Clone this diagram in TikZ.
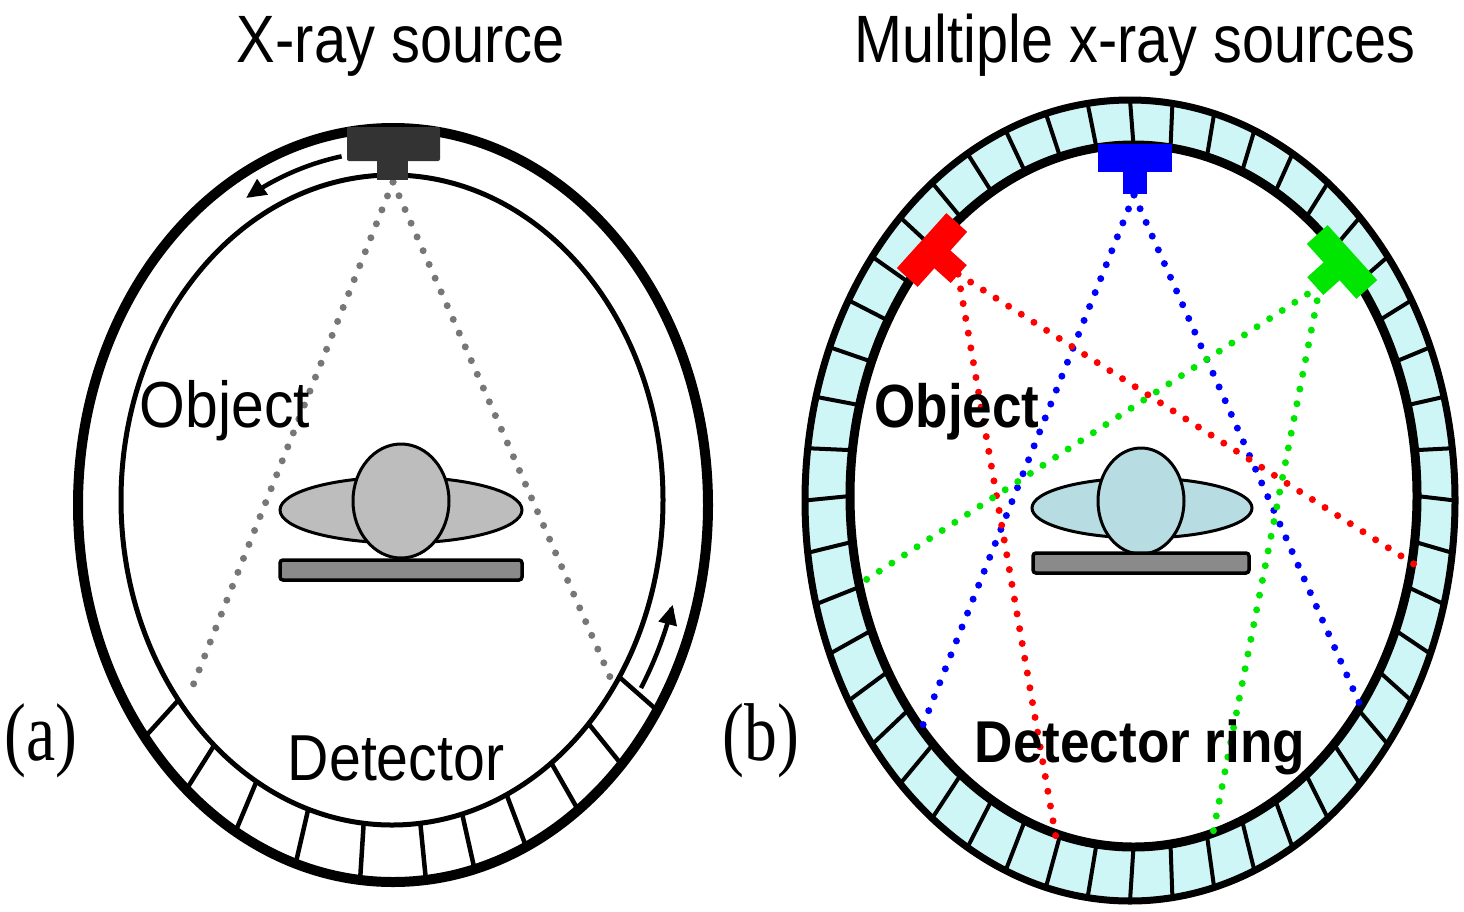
\documentclass[tikz,border=0pt]{standalone}
\usepackage{fontspec}
\setmainfont{Liberation Sans}
\newfontfamily\labelserif{Liberation Serif}
\usetikzlibrary{arrows.meta}

\definecolor{srcgray}{HTML}{333333}
\definecolor{bodygray}{HTML}{BDBDBD}
\definecolor{tablegray}{HTML}{8A8A8A}
\definecolor{raygray}{HTML}{777777}
\definecolor{ringcyan}{RGB}{207,246,247}
\definecolor{bodyblue}{RGB}{183,221,227}
\definecolor{rayred}{RGB}{255,0,0}
\definecolor{rayblue}{RGB}{0,0,255}
\definecolor{raygreen}{RGB}{0,230,0}

\begin{document}
\begin{tikzpicture}[x=1pt,y=-1pt,
  ray/.style={line width=7pt, line cap=round, dash pattern=on 0pt off 15pt},
  cellL/.style={line width=4.5pt},
  cellR/.style={line width=4pt},
  motion/.style={line width=4.5pt, -{Triangle[length=20pt,width=18pt]}},
  txt/.style={inner sep=0pt, anchor=base},
  pics/xsource/.style={code={
    \fill[#1] (-37,-14) rectangle (37,14);
    \fill[#1] (-12,12) rectangle (12,36);
  }}
]
\useasboundingbox (0,0) rectangle (1464,911);
\fill[white] (0,0) rectangle (1464,911);

% ---------- (a) single rotating source ----------
% detector cells at the bottom of the gantry
\foreach \t in {33,43.5,54,65,75,84,96,108,120,131,142}
  \draw[cellL] ({392+271*cos(\t)},{500+325*sin(\t)}) -- ({393+315*cos(\t)},{505+377*sin(\t)});
\draw[line width=10pt] (393,505) ellipse [x radius=315pt, y radius=377pt];
\draw[line width=5pt] (392,500) ellipse [x radius=271pt, y radius=325pt];

% rotation arrows
\draw[motion] plot[variable=\t, domain=260:240, samples=20, smooth]
  ({392.5+293*cos(\t)},{502+351*sin(\t)});
\draw[motion] plot[variable=\t, domain=32:17, samples=20, smooth]
  ({392.5+293*cos(\t)},{502+351*sin(\t)});

% fan beam
\coordinate (srcL) at (393,182);
\coordinate (hitL1) at (190,693);
\coordinate (hitL2) at (610,677);
\draw[ray, raygray] (srcL) -- (hitL1);
\draw[ray, raygray] (srcL) -- (hitL2);

% source
\fill[srcgray, rounded corners=2pt] (347,127) rectangle (440,161);
\fill[srcgray] (377,158) rectangle (408,180);

% object on the table
\draw[line width=3pt, fill=bodygray] (401,510) ellipse [x radius=121pt, y radius=33pt];
\draw[line width=3pt, fill=bodygray] (401,501) ellipse [x radius=48pt, y radius=57pt];
\draw[line width=3.5pt, fill=tablegray, rounded corners=3pt] (280,560) rectangle (522,580);

% labels
\node[txt, font=\fontsize{67}{70}\selectfont] (titleA) at (401,62) {\scalebox{0.864}[1]{X-ray source}};
\node[txt, font=\fontsize{65}{70}\selectfont] (objA) at (225,427) {\scalebox{0.905}[1]{Object}};
\node[txt, font=\fontsize{65}{70}\selectfont] (detA) at (396,780) {\scalebox{0.88}[1]{Detector}};
\node[txt, font=\labelserif\fontsize{82}{86}\selectfont] (tagA) at (41,760) {\scalebox{0.8}[1]{(a)}};

% ---------- (b) multiple stationary sources ----------
\fill[ringcyan, even odd rule]
  (1130,500.5) ellipse [x radius=325pt, y radius=400.5pt]
  (1133.5,496) ellipse [x radius=283.5pt, y radius=351pt];
\foreach \i in {0,...,47}
  \draw[cellR] ({1133.5+283.5*cos(7.5*\i)},{496+351*sin(7.5*\i)}) -- ({1130+325*cos(7.5*\i)},{500.5+400.5*sin(7.5*\i)});
\draw[line width=7pt] (1130,500.5) ellipse [x radius=325pt, y radius=400.5pt];
\draw[line width=9pt] (1133.5,496) ellipse [x radius=283.5pt, y radius=351pt];

% ray paths from each source to the ring
\coordinate (srcB) at (1134,195);
\coordinate (srcR) at (958,274);
\coordinate (srcG) at (1320,286);
\coordinate (hitB1) at (919,735);
\coordinate (hitB2) at (1361,707);
\coordinate (hitR1) at (1056,838);
\coordinate (hitR2) at (1420,568);
\coordinate (hitG1) at (858,585);
\coordinate (hitG2) at (1211,843);
\draw[ray, rayblue] (srcB) -- (hitB1);
\draw[ray, rayblue] (srcB) -- (hitB2);
\draw[ray, rayred] (srcR) -- (hitR1);
\draw[ray, rayred] (srcR) -- (hitR2);
\draw[ray, raygreen] (srcG) -- (hitG1);
\draw[ray, raygreen] (srcG) -- (hitG2);

% sources
\pic at (1134.5,158) {xsource=rayblue};
\pic[rotate=48] at (932,250) {xsource=rayred};
\pic[rotate=-48] at (1342,262) {xsource=raygreen};

% object on the table
\draw[line width=3pt, fill=bodyblue] (1142,508) ellipse [x radius=110pt, y radius=30pt];
\draw[line width=3pt, fill=bodyblue] (1141,501) ellipse [x radius=43pt, y radius=53pt];
\draw[line width=3.5pt, fill=tablegray, rounded corners=3pt] (1033,553) rectangle (1249,573);

% labels
\node[txt, font=\fontsize{67}{70}\selectfont] (titleB) at (1135,62) {\scalebox{0.86}[1]{Multiple x-ray sources}};
\node[txt, font=\bfseries\fontsize{61}{66}\selectfont] (objB) at (957,427) {\scalebox{0.87}[1]{Object}};
\node[txt, font=\bfseries\fontsize{59}{64}\selectfont] (detB) at (1140,762) {\scalebox{0.9}[1]{Detector ring}};
\node[txt, font=\labelserif\fontsize{82}{86}\selectfont] (tagB) at (761,760) {\scalebox{0.8}[1]{(b)}};
\end{tikzpicture}
\end{document}
